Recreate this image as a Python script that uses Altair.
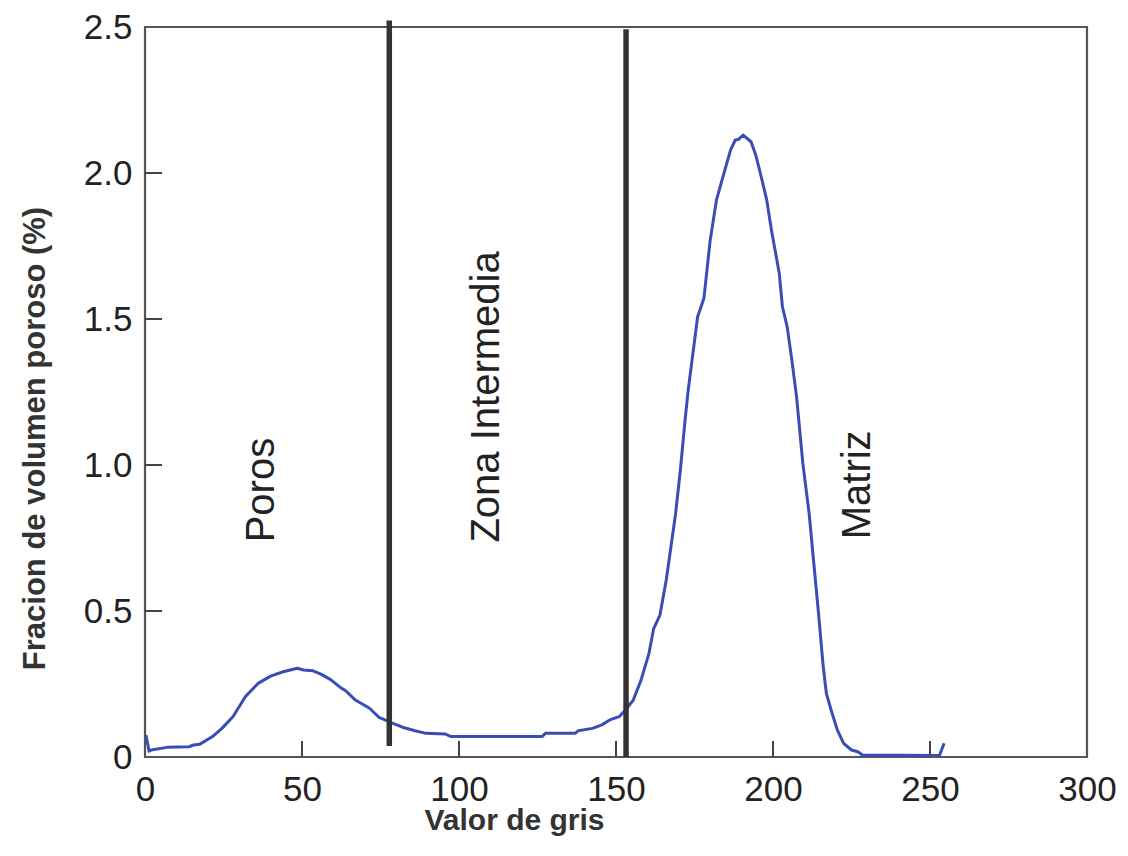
import altair as alt
import pandas as pd

# Curve: grey value vs pore volume fraction (%)
gris = [0.3, 1.3, 2, 7, 14, 15.5, 17.5, 21.5, 24.5, 28, 32, 36, 40, 44, 48.5, 50.5, 53.5, 56,
        59, 62, 64, 67, 71.5, 74.5, 79, 82, 86, 89.5, 95.5, 97.5, 126.5, 127.5, 137, 138,
        142.5, 145.5, 148, 151, 153, 155.5, 158, 160.5, 162, 164, 166, 167.5, 169, 170.5,
        172, 173, 176, 178, 180, 182, 184.5, 186.5, 188, 189, 190.5, 193, 194.5, 196.5, 198,
        199.5, 202, 203, 204.5, 206, 207.5, 208, 209.5, 211.5, 213, 214.5, 216, 217, 218.5,
        220.5, 222.5, 225, 227, 228.5, 253, 254.5]
fraccion = [0.075, 0.02, 0.024, 0.033, 0.035, 0.041, 0.044, 0.07, 0.098, 0.138, 0.207, 0.252,
            0.277, 0.292, 0.304, 0.298, 0.295, 0.284, 0.266, 0.24, 0.226, 0.195, 0.167, 0.136,
            0.115, 0.102, 0.09, 0.081, 0.079, 0.07, 0.07, 0.081, 0.081, 0.09, 0.098, 0.11,
            0.127, 0.138, 0.161, 0.195, 0.264, 0.355, 0.44, 0.486, 0.606, 0.72, 0.835, 0.983,
            1.154, 1.257, 1.508, 1.571, 1.77, 1.908, 2.004, 2.079, 2.113, 2.115, 2.13, 2.107,
            2.062, 1.976, 1.908, 1.805, 1.656, 1.542, 1.474, 1.36, 1.234, 1.177, 1.006, 0.835,
            0.663, 0.492, 0.309, 0.218, 0.161, 0.092, 0.047, 0.024, 0.018, 0.007, 0.005, 0.047]

# Threshold lines
umbral_x = [77.8, 153.2]
umbral_top = [2.522, 2.492]
umbral_bot = [0.038, 0.0]

# Region labels
etiquetas = ["Poros", "Zona Intermedia", "Matriz"]
etiq_x = [37.2, 109.0, 227.2]
etiq_y = [0.914, 1.233, 0.932]

x_ticks = [0, 50, 100, 150, 200, 250, 300]
y_ticks = [0, 0.5, 1.0, 1.5, 2.0, 2.5]
x_inner_ticks = [50, 100, 150, 200, 250]
y_inner_ticks = [0.5, 1.0, 1.5, 2.0]

W, H = 942, 730
FONT = "Liberation Sans"

curve = pd.DataFrame({"gris": gris, "frac": fraccion})
rules = pd.DataFrame({"gris": umbral_x, "top": umbral_top, "bot": umbral_bot})
labels = pd.DataFrame({"label": etiquetas, "gris": etiq_x, "frac": etiq_y})
xt = pd.DataFrame({"gris": x_inner_ticks})
yt = pd.DataFrame({"frac": y_inner_ticks})

xscale = alt.Scale(domain=[0, 300], nice=False)
yscale = alt.Scale(domain=[0, 2.5], nice=False)

xaxis = alt.Axis(values=x_ticks, ticks=False, tickSize=0, domain=False, grid=False,
                 labelFontSize=35, labelFont=FONT, labelColor="#222", labelPadding=15,
                 labelFlush=False, title="Valor de gris", titleFont=FONT, titleFontSize=30,
                 titleFontWeight="bold", titleColor="#333", titleX=369, titleY=72,
                 titleBaseline="alphabetic", titleAlign="center")
yaxis = alt.Axis(values=y_ticks, ticks=False, tickSize=0, domain=False, grid=False,
                 labelFontSize=35, labelFont=FONT, labelColor="#222", labelPadding=13,
                 labelFlush=False,
                 labelExpr="datum.value == 0 ? '0' : format(datum.value, '.1f')",
                 title="Fracion de volumen poroso (%)", titleFont=FONT, titleFontSize=31,
                 titleFontWeight="bold", titleColor="#333", titleX=-101, titleY=411,
                 titleAngle=270, titleBaseline="alphabetic", titleAlign="center")

X = lambda f: alt.X(f, type="quantitative", scale=xscale, axis=xaxis)
Y = lambda f: alt.Y(f, type="quantitative", scale=yscale, axis=yaxis)

line = alt.Chart(curve).mark_line(color="#3a4db5", strokeWidth=3, strokeJoin="round").encode(
    x=X("gris"), y=Y("frac"))

vrules = alt.Chart(rules).mark_rule(color="#333333", strokeWidth=5.5).encode(
    x=X("gris"), y=Y("top"), y2="bot")

text = alt.Chart(labels).mark_text(angle=270, font=FONT, fontSize=40, color="#222",
                                   align="center", baseline="middle").encode(
    x=X("gris"), y=Y("frac"), text="label")

xtick_marks = alt.Chart(xt).mark_rule(color="#444", strokeWidth=2).encode(
    x=X("gris"), y=alt.value(H), y2=alt.value(H - 16))

ytick_marks = alt.Chart(yt).mark_rule(color="#444", strokeWidth=2).encode(
    y=Y("frac"), x=alt.value(0), x2=alt.value(17))

chart = alt.layer(xtick_marks, ytick_marks, line, vrules, text).properties(
    width=W, height=H,
    autosize=alt.AutoSizeParams(type="none"),
    padding={"left": 145, "top": 27, "right": 41, "bottom": 99},
    background="white",
).configure_view(stroke="#555555", strokeWidth=2.2)

chart.save("out.html", embed_options={"renderer": "svg", "actions": False})
